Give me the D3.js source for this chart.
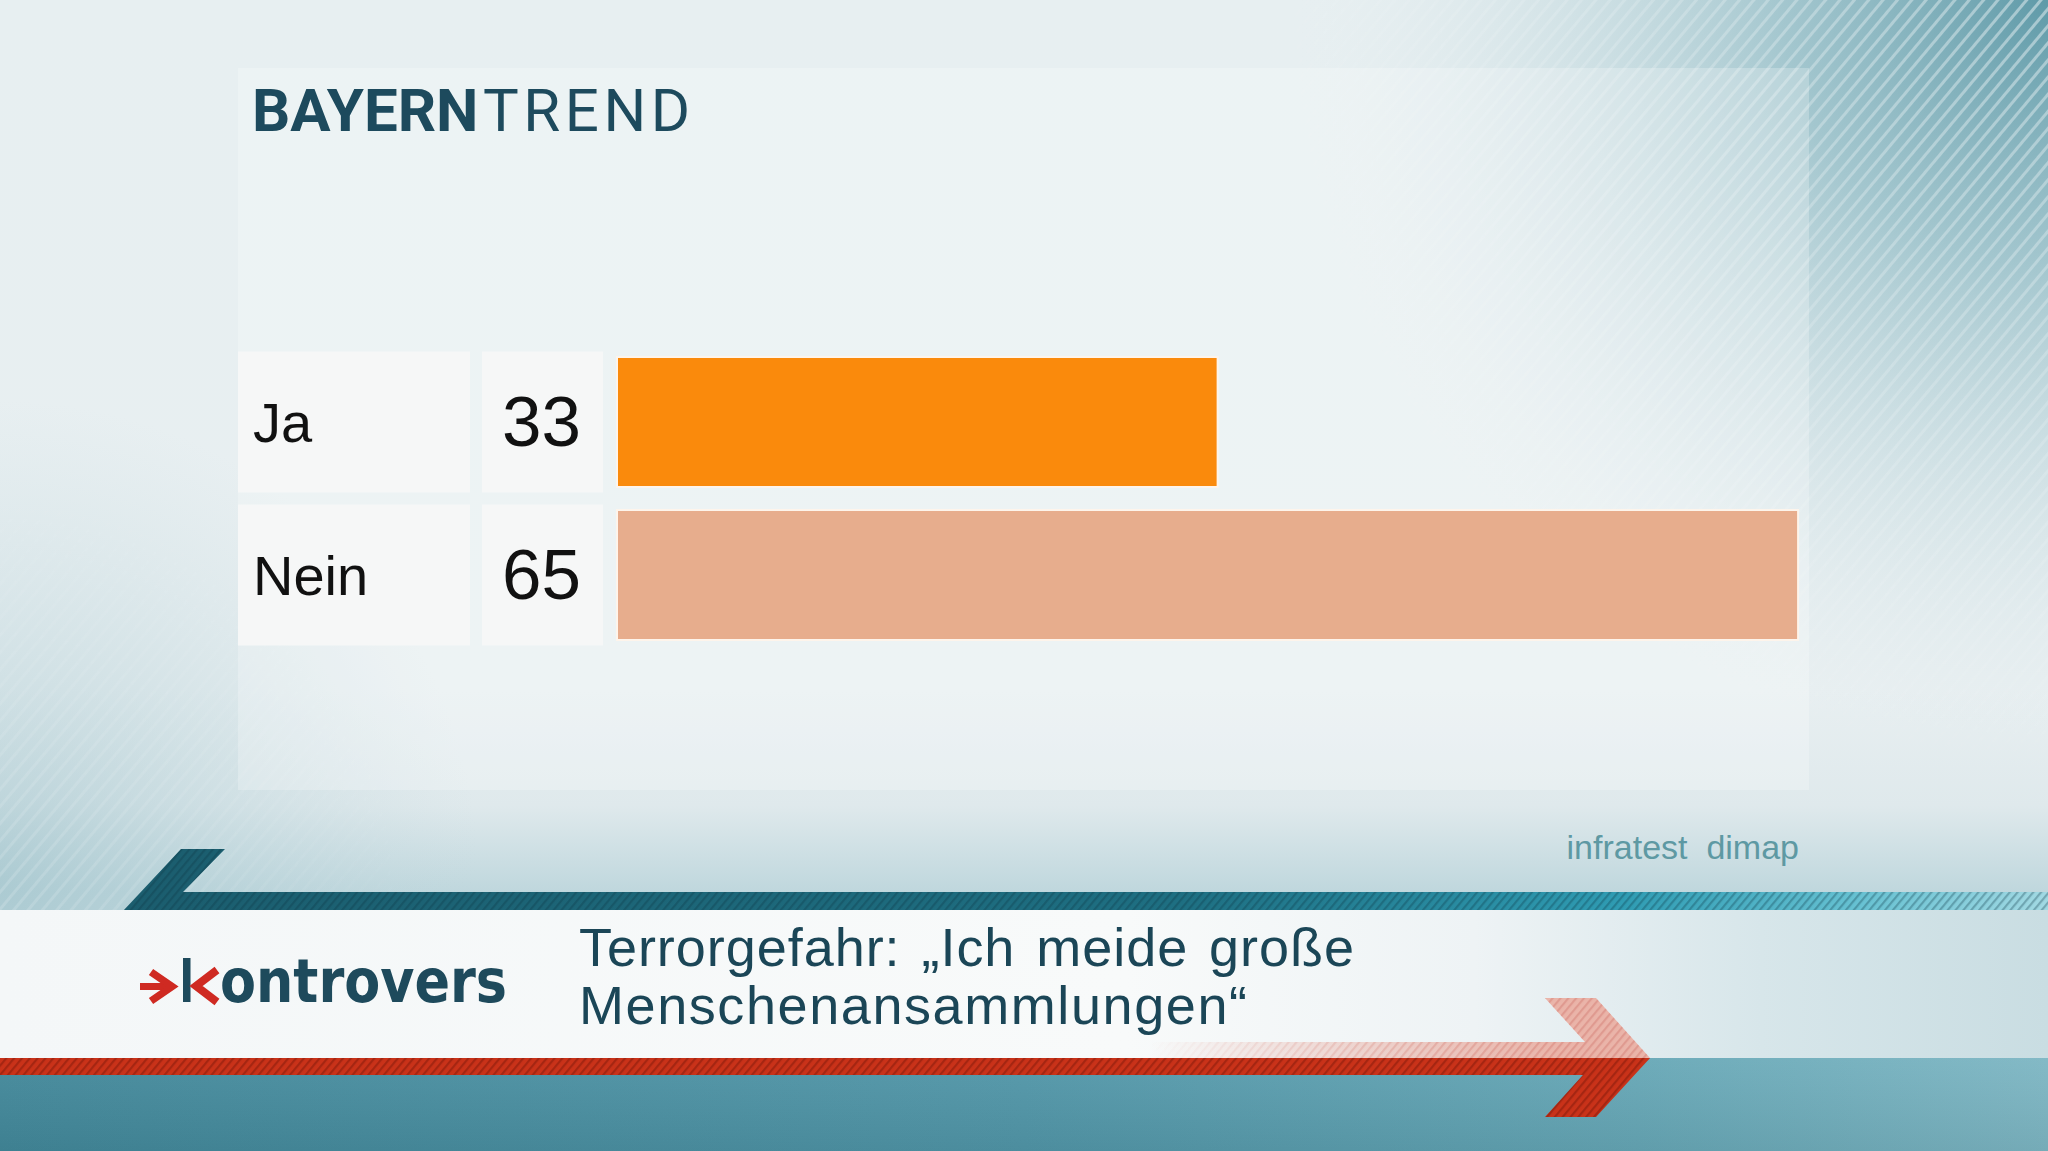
<!DOCTYPE html>
<html>
<head>
<meta charset="utf-8">
<script src="https://cdn.jsdelivr.net/npm/d3@7"></script>
<style>
  html, body { margin: 0; padding: 0; background: #e8f0f2; overflow: hidden; }
  svg { display: block; }
</style>
</head>
<body>
<script>
// ---------- DATA ----------
const categories = ["Ja", "Nein"];
const values = [33, 65];
const barColors = ["#fa8a0c", "#e7ad8d"];
const titleBold = "BAYERN";
const titleLight = "TREND";
const source = "infratest  dimap";
const questionLines = ["Terrorgefahr: \u201EIch meide gro\u00DFe", "Menschenansammlungen\u201C"];
const brand = "ontrovers";

// ---------- SETUP ----------
const W = 2048, H = 1151;
const svg = d3.select("body").append("svg").attr("width", W).attr("height", H);
const defs = svg.append("defs");

function linGrad(id, x1, y1, x2, y2, stops, units) {
  const g = defs.append("linearGradient").attr("id", id)
    .attr("x1", x1).attr("y1", y1).attr("x2", x2).attr("y2", y2);
  if (units) g.attr("gradientUnits", units);
  stops.forEach(s => g.append("stop").attr("offset", s[0]).attr("stop-color", s[1]).attr("stop-opacity", s[2] == null ? 1 : s[2]));
  return g;
}
function radGrad(id, cx, cy, r, stops) {
  const g = defs.append("radialGradient").attr("id", id).attr("gradientUnits", "userSpaceOnUse")
    .attr("cx", cx).attr("cy", cy).attr("r", r);
  stops.forEach(s => g.append("stop").attr("offset", s[0]).attr("stop-color", s[1]).attr("stop-opacity", s[2] == null ? 1 : s[2]));
  return g;
}
function hatch(id, size, color, width) {
  const p = defs.append("pattern").attr("id", id).attr("patternUnits", "userSpaceOnUse")
    .attr("width", size).attr("height", size).attr("patternTransform", "rotate(40)");
  p.append("rect").attr("x", 0).attr("y", 0).attr("width", width).attr("height", size).attr("fill", color);
  return p;
}

// background gradients
linGrad("bgV", 0, 0, 0, 1, [[0, "#e7eff1"], [0.6, "#e8eff1"], [0.7, "#dfe9ec"], [0.775, "#bfd7dd"]]);
radGrad("cornerTR", W, 0, 760, [[0, "#5f9aa8", 1], [0.35, "#8db9c3", 0.75], [1, "#e7eff1", 0]]);
radGrad("cornerBL", 0, 880, 480, [[0, "#a3c5cd", 0.7], [1, "#c0d7dd", 0]]);
radGrad("maskTR", W, 0, 800, [[0, "#ffffff", 0.9], [0.5, "#ffffff", 0.35], [1, "#ffffff", 0]]);
radGrad("maskBL", 0, 900, 420, [[0, "#ffffff", 0.45], [1, "#ffffff", 0]]);
hatch("whiteStripes", 11, "#ffffff", 3);
hatch("darkHatch", 6, "#0c3644", 2.2);
hatch("redHatch", 6, "#6e1408", 2.2);
hatch("pinkHatch", 6, "#d98a80", 2.2);

const mTR = defs.append("mask").attr("id", "mTR");
mTR.append("rect").attr("width", W).attr("height", H).attr("fill", "url(#maskTR)");
const mBL = defs.append("mask").attr("id", "mBL");
mBL.append("rect").attr("width", W).attr("height", H).attr("fill", "url(#maskBL)");

linGrad("stripeGrad", 120, 0, W, 0, [[0, "#1b5d6e"], [0.55, "#1e6f82"], [0.78, "#2f9cb3"], [0.9, "#66c1d2"], [1, "#a2d9e3"]], "userSpaceOnUse");
linGrad("bandGrad", 0, 0, W, 0, [[0, "#f4f7f8"], [0.55, "#f8fafa"], [0.72, "#eef3f5"], [0.86, "#d7e6ea"], [1, "#c9dde2"]], "userSpaceOnUse");
linGrad("tealGrad", 0, 0, W, 0, [[0, "#42889a"], [0.5, "#5196a8"], [0.8, "#66a7b6"], [1, "#7db6c3"]], "userSpaceOnUse");
linGrad("tealV", 0, 0, 0, 1, [[0, "#ffffff", 0.05], [1, "#000000", 0.06]]);
linGrad("pinkFade", 1150, 0, 1560, 0, [[0, "#eab4a9", 0], [1, "#eab4a9", 1]], "userSpaceOnUse");
linGrad("pinkHatchFade", 1150, 0, 1560, 0, [[0, "#fff", 0], [1, "#fff", 1]], "userSpaceOnUse");
const mPink = defs.append("mask").attr("id", "mPink");
mPink.append("rect").attr("width", W).attr("height", H).attr("fill", "url(#pinkHatchFade)");

// ---------- BACKGROUND ----------
svg.append("rect").attr("width", W).attr("height", H).attr("fill", "url(#bgV)");
svg.append("rect").attr("width", W).attr("height", H).attr("fill", "url(#cornerTR)");
svg.append("rect").attr("width", W).attr("height", H).attr("fill", "url(#cornerBL)");
svg.append("rect").attr("width", W).attr("height", H).attr("fill", "url(#whiteStripes)").attr("mask", "url(#mTR)").attr("opacity", 0.5);
svg.append("rect").attr("width", W).attr("height", H).attr("fill", "url(#whiteStripes)").attr("mask", "url(#mBL)").attr("opacity", 0.35);

// panel
svg.append("rect").attr("x", 238).attr("y", 68).attr("width", 1571).attr("height", 722)
  .attr("fill", "#ffffff").attr("opacity", 0.24);

// ---------- TITLE ----------
const titleColor = "#1d4a5d";
svg.append("text").attr("x", 252).attr("y", 131)
  .attr("font-family", "Roboto, sans-serif").attr("font-weight", "bold").attr("font-size", 60)
  .attr("fill", titleColor).text(titleBold);
svg.append("text").attr("x", 483).attr("y", 131)
  .attr("font-family", "Roboto, sans-serif").attr("font-size", 60).attr("letter-spacing", 4.5)
  .attr("fill", titleColor).text(titleLight);

// ---------- CHART ----------
const x = d3.scaleLinear().domain([0, 100]).range([618, 618 + 1814]);
const y = d3.scaleBand().domain(categories).range([345.5, 651.5]).padding(0);
const barH = 128, boxH = 141;
const rows = categories.map((c, i) => ({ c, v: values[i], col: barColors[i] }));

const g = svg.append("g");
// label boxes
g.selectAll("rect.lab").data(rows).join("rect").attr("class", "lab")
  .attr("x", 238).attr("width", 232)
  .attr("y", d => y(d.c) + (y.step() - boxH) / 2).attr("height", boxH)
  .attr("fill", "#f6f7f7");
g.selectAll("rect.val").data(rows).join("rect").attr("class", "val")
  .attr("x", 482).attr("width", 121)
  .attr("y", d => y(d.c) + (y.step() - boxH) / 2).attr("height", boxH)
  .attr("fill", "#f6f7f7");
// bars (glow + bar)
g.selectAll("rect.glow").data(rows).join("rect").attr("class", "glow")
  .attr("x", x(0) - 2).attr("width", d => x(d.v) - x(0) + 4)
  .attr("y", d => y(d.c) + (y.step() - barH) / 2 - 2).attr("height", barH + 4)
  .attr("fill", "#fff4ea").attr("opacity", 0.9);
g.selectAll("rect.bar").data(rows).join("rect").attr("class", "bar")
  .attr("x", x(0)).attr("width", d => x(d.v) - x(0))
  .attr("y", d => y(d.c) + (y.step() - barH) / 2).attr("height", barH)
  .attr("fill", d => d.col);
// category labels
g.selectAll("text.cat").data(rows).join("text").attr("class", "cat")
  .attr("x", 253).attr("y", d => y(d.c) + y.step() / 2 + 20)
  .attr("font-family", "Liberation Sans, Arial, sans-serif").attr("font-size", 56)
  .attr("fill", "#111111").text(d => d.c);
// value labels
g.selectAll("text.num").data(rows).join("text").attr("class", "num")
  .attr("x", 581).attr("y", d => y(d.c) + y.step() / 2 + 24)
  .attr("text-anchor", "end")
  .attr("font-family", "Liberation Sans, Arial, sans-serif").attr("font-size", 71)
  .attr("fill", "#111111").text(d => d.v);

// source
svg.append("text").attr("x", 1799).attr("y", 859).attr("text-anchor", "end")
  .attr("font-family", "Liberation Sans, Arial, sans-serif").attr("font-size", 34)
  .attr("fill", "#5e99a3").style("white-space", "pre").text(source);

// ---------- BOTTOM BANNER ----------
// white band
svg.append("rect").attr("x", 0).attr("y", 910).attr("width", W).attr("height", 148).attr("fill", "url(#bandGrad)");
// teal bottom
svg.append("rect").attr("x", 0).attr("y", 1058).attr("width", W).attr("height", H - 1058).attr("fill", "url(#tealGrad)");
svg.append("rect").attr("x", 0).attr("y", 1058).attr("width", W).attr("height", H - 1058).attr("fill", "url(#tealV)");

// dark teal stripe with slanted end
const stripePts = [[124, 910], [181, 849], [225, 849], [183, 892], [W, 892], [W, 910]];
const line = d3.line();
svg.append("path").attr("d", line(stripePts) + "Z").attr("fill", "url(#stripeGrad)");
svg.append("path").attr("d", line(stripePts) + "Z").attr("fill", "url(#darkHatch)").attr("opacity", 0.3);

// red arrow: lower (solid) half
const redLower = [[0, 1058], [1650, 1058], [1596, 1117], [1545, 1117], [1583, 1075], [0, 1075]];
svg.append("path").attr("d", line(redLower) + "Z").attr("fill", "#c93219");
svg.append("path").attr("d", line(redLower) + "Z").attr("fill", "url(#redHatch)").attr("opacity", 0.4);
// upper (pale) half
const redUpper = [[1100, 1042], [1585, 1042], [1545, 998], [1596, 998], [1650, 1058], [1100, 1058]];
svg.append("path").attr("d", line(redUpper) + "Z").attr("fill", "url(#pinkFade)");
svg.append("path").attr("d", line(redUpper) + "Z").attr("fill", "url(#pinkHatch)").attr("mask", "url(#mPink)").attr("opacity", 0.6);

// kontrovers logo
const red = "#cf2a22", navy = "#1e4a5c";
svg.append("rect").attr("x", 140).attr("y", 983).attr("width", 26).attr("height", 7).attr("fill", red);
svg.append("path").attr("d", line([[151, 972], [172, 986.5], [151, 1001]])).attr("fill", "none")
  .attr("stroke", red).attr("stroke-width", 7.5);
svg.append("rect").attr("x", 183).attr("y", 958).attr("width", 7.5).attr("height", 44).attr("fill", navy);
svg.append("path").attr("d", line([[217, 970], [196, 986], [217, 1002]])).attr("fill", "none")
  .attr("stroke", red).attr("stroke-width", 8);
svg.append("text").attr("x", 220).attr("y", 1002)
  .attr("font-family", "DejaVu Sans").attr("font-weight", "bold").attr("font-size", 60)
  .attr("textLength", 287).attr("lengthAdjust", "spacingAndGlyphs")
  .attr("fill", navy).text(brand);

// question text (two lines)
const qWidths = [775, 668];
svg.selectAll("text.q").data(questionLines).join("text").attr("class", "q")
  .attr("x", 579).attr("y", (d, i) => 966 + i * 58)
  .attr("font-family", "Liberation Sans, Arial, sans-serif").attr("font-size", 54)
  .attr("word-spacing", 5)
  .attr("textLength", (d, i) => qWidths[i]).attr("lengthAdjust", "spacing")
  .attr("fill", "#1b4657").text(d => d);
</script>
</body>
</html>
